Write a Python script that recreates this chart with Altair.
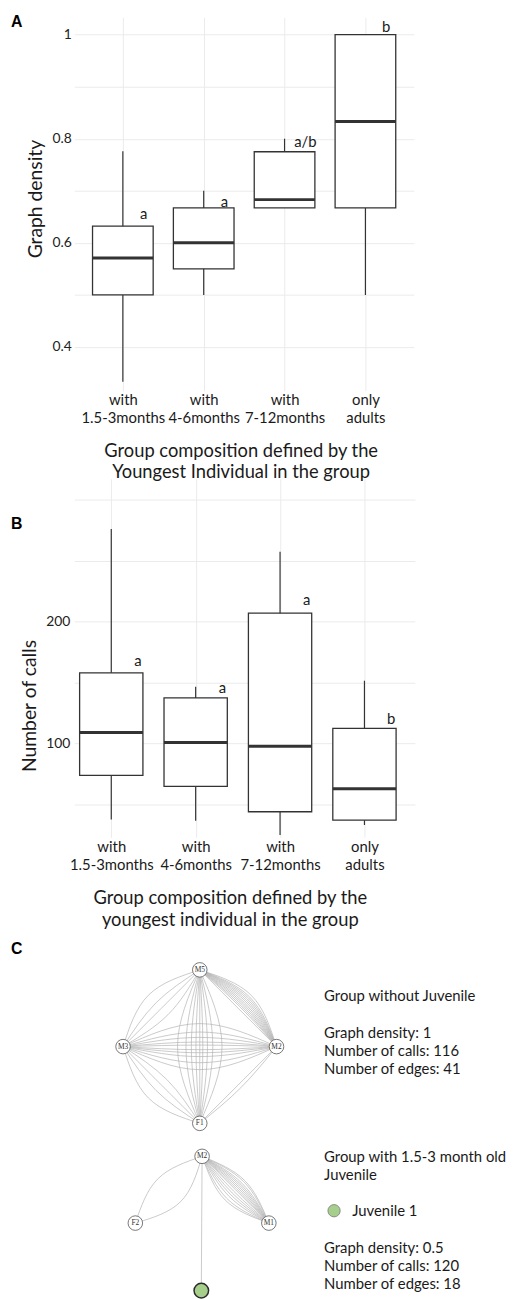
import json
import math
import altair as alt
import pandas as pd

FONT = "Lato"
INK = "#1a1a1a"
BOX = "#333333"
GRID = "#ebebeb"
GREEN = "#a6cf8c"

# ---------------- categories ----------------
group_idx = [1, 2, 3, 4]
group_labels = [["with", "1.5-3months"], ["with", "4-6months"], ["with", "7-12months"], ["only", "adults"]]

# ---------------- panel A : graph density ----------------
a_lower = [0.333, 0.500, 0.667, 0.500]
a_q1 = [0.500, 0.550, 0.667, 0.667]
a_median = [0.571, 0.600, 0.683, 0.833]
a_q3 = [0.632, 0.667, 0.775, 1.000]
a_upper = [0.776, 0.700, 0.800, 1.000]
a_letters = ["a", "a", "a/b", "b"]
a_letter_y = [0.656, 0.679, 0.793, 1.015]
a_ticks = [0.4, 0.5, 0.6, 0.7, 0.8, 0.9, 1.0]

# ---------------- panel B : number of calls ----------------
b_lower = [37.6, 36.6, 24.9, 33.0]
b_q1 = [73.7, 64.7, 43.9, 37.0]
b_median = [109.0, 100.8, 97.6, 62.8]
b_q3 = [158.0, 137.4, 207.0, 112.4]
b_upper = [276.0, 146.6, 257.4, 151.5]
b_letters = ["a", "a", "a", "b"]
b_letter_y = [168.0, 145.5, 218.0, 120.3]
b_ticks = [50, 100, 150, 200, 250, 300]

# ---------------- panel C : networks (layout units) ----------------
net1_names = ["M5", "M3", "M2", "F1"]
net1_x = [0.0, -1.0, 1.0, 0.0]
net1_y = [1.0, 0.0, 0.0, -1.0]
net1_edges = [
    ("M3", "M2", [0.30, 0.19, 0.12, 0.06, 0.02, -0.04, -0.08, -0.13, -0.21, -0.30]),
    ("M5", "F1", [0.29, 0.17, 0.10, 0.04, 0.0, -0.05, -0.11, -0.18, -0.29]),
    ("M5", "M2", [0.0, 0.03, 0.05, 0.07, 0.09, 0.11, 0.13, 0.15, 0.17, 0.19, 0.21, 0.24]),
    ("M3", "M5", [0.24, 0.10, 0.0, -0.12]),
    ("F1", "M3", [0.24, 0.10, 0.0, -0.10]),
    ("M2", "F1", [0.0, 0.05]),
]
net2_names = ["M2", "F2", "M1", "Juvenile 1"]
net2_x = [0.03, -0.84, 0.90, 0.02]
net2_y = [-1.43, -2.30, -2.30, -3.18]
net2_juvenile = [False, False, False, True]
net2_edges = [
    ("F2", "M2", [0.20, -0.22]),
    ("M2", "M1", [0.17, 0.15, 0.12, 0.10, 0.08, 0.06, 0.04, 0.02, 0.0, -0.03, -0.06, -0.09, -0.12, -0.16, -0.19]),
    ("M2", "Juvenile 1", [0.0]),
]

info_text = ["Group without Juvenile", "Graph density: 1", "Number of calls: 116", "Number of edges: 41",
             "Group with 1.5-3 month old", "Juvenile", "Juvenile 1",
             "Graph density: 0.5", "Number of calls: 120", "Number of edges: 18"]
info_x = [1.62, 1.62, 1.62, 1.62, 1.62, 1.62, 1.987, 1.62, 1.62, 1.62]
info_y = [0.665, 0.178, -0.054, -0.294, -1.443, -1.68, -2.139, -2.626, -2.862, -3.10]
legend_x = [1.75]
legend_y = [-2.139]


def box_panel(lower, q1, med, q3, upper, letters, letter_y, xdom, ydom, yvals, yfmt, ylab_expr,
              ytitle, ytitle_x, ytitle_y, ylab_pad, xtitle, xtitle_x, xtitle_y, xlab_pad, letter_dx,
              width, height, ptitle, title_dy):
    df = pd.DataFrame(dict(idx=group_idx, lower=lower, q1=q1, med=med, q3=q3, upper=upper,
                           letter=letters, ly=letter_y))
    xs = alt.Scale(domain=xdom, nice=False, zero=False)
    ys = alt.Scale(domain=ydom, nice=False, zero=False)
    base = alt.Chart(df).transform_calculate(x0="datum.idx - 0.375", x1="datum.idx + 0.375")
    xaxis = alt.Axis(values=group_idx, labelExpr=json.dumps(group_labels) + "[datum.value - 1]",
                     grid=True, gridColor=GRID, gridWidth=1, ticks=False, domain=False,
                     labelPadding=xlab_pad, labelBaseline="alphabetic", labelLineHeight=18.5,
                     labelFont=FONT, labelFontSize=15, labelColor=INK, labelFlush=False,
                     labelOverlap=False, labelAngle=0, labelAlign="center",
                     title=xtitle, titleFont=FONT, titleFontSize=18.5, titleFontWeight="normal",
                     titleColor=INK, titleX=xtitle_x, titleY=xtitle_y, titleBaseline="alphabetic",
                     titleAlign="center", titleLineHeight=22)
    yaxis = alt.Axis(values=yvals, format=yfmt, labelExpr=ylab_expr, grid=True, gridColor=GRID,
                     gridWidth=1, ticks=False, domain=False, labelPadding=ylab_pad,
                     labelFont=FONT, labelFontSize=14, labelColor="#222222", labelOverlap=False,
                     title=ytitle, titleFont=FONT, titleFontSize=19.5, titleFontWeight="normal",
                     titleColor=INK, titleX=ytitle_x, titleY=ytitle_y, titleAngle=270,
                     titleBaseline="alphabetic", titleAlign="center")
    whisk = base.mark_rule(color=BOX, strokeWidth=1.2).encode(
        x=alt.X("idx:Q", scale=xs, axis=xaxis),
        y=alt.Y("lower:Q", scale=ys, axis=yaxis),
        y2="upper:Q")
    box = base.mark_rect(fill="white", stroke=BOX, strokeWidth=1.3).encode(
        x=alt.X("x0:Q", scale=xs, axis=xaxis), x2="x1:Q",
        y=alt.Y("q1:Q", scale=ys, axis=yaxis), y2="q3:Q")
    medl = base.mark_rule(color=BOX, strokeWidth=3).encode(
        x=alt.X("x0:Q", scale=xs, axis=xaxis), x2="x1:Q",
        y=alt.Y("med:Q", scale=ys, axis=yaxis))
    lett = base.mark_text(font=FONT, fontSize=15, color=INK, dx=letter_dx, baseline="middle").encode(
        x=alt.X("idx:Q", scale=xs, axis=xaxis),
        y=alt.Y("ly:Q", scale=ys, axis=yaxis),
        text="letter:N")
    return alt.layer(whisk, box, medl, lett).properties(
        width=width, height=height,
        title=alt.TitleParams(text=ptitle, anchor="start", frame="group", dx=-64, dy=title_dy,
                              offset=0, font="Liberation Sans", fontSize=16, fontWeight="bold",
                              color="black", baseline="alphabetic"))


panel_a = box_panel(a_lower, a_q1, a_median, a_q3, a_upper, a_letters, a_letter_y,
                    [0.4, 4.6], [0.316, 1.033], a_ticks, "~g",
                    "round(datum.value * 10) % 2 == 0 ? datum.label : ''",
                    "Graph density", -33.5, 183, 3,
                    ["Group composition defined by the", "Youngest Individual in the group"], 168, 66, 14, 21,
                    343, 377, "A", 26)

panel_b = box_panel(b_lower, b_q1, b_median, b_q3, b_upper, b_letters, b_letter_y,
                    [0.5624, 4.598], [23.0, 317.3], b_ticks, "d",
                    "datum.value == 100 || datum.value == 200 ? datum.label : ''",
                    "Number of calls", -39.5, 229, 4.5,
                    ["Group composition defined by the", "youngest individual in the group"], 157, 67, 14, 27,
                    344, 362, "B", 67)

# ---------------- panel C ----------------
C_W, C_H = 344, 381
UNIT = 77.5
ORIGIN_X, ORIGIN_Y = 126.7, 122.5
cx = alt.Scale(domain=[-ORIGIN_X / UNIT, (C_W - ORIGIN_X) / UNIT], nice=False, zero=False)
cy = alt.Scale(domain=[(ORIGIN_Y - C_H) / UNIT, ORIGIN_Y / UNIT], nice=False, zero=False)

nodes = []
pos = {}
for net, names, xs_, ys_, juv in [(1, net1_names, net1_x, net1_y, [False] * 4),
                                  (2, net2_names, net2_x, net2_y, net2_juvenile)]:
    for n, x, y, j in zip(names, xs_, ys_, juv):
        pos[(net, n)] = (x, y)
        nodes.append(dict(net=net, name=n, x=x, y=y, label="" if j else n, juvenile=j))
nodes_df = pd.DataFrame(nodes)

edge_rows = []
eid = 0
for net, edges in [(1, net1_edges), (2, net2_edges)]:
    for a, b, bulges in edges:
        ax, ay = pos[(net, a)]
        bx, by = pos[(net, b)]
        dx, dy = bx - ax, by - ay
        L = math.hypot(dx, dy)
        nx, ny = -dy / L, dx / L
        mx, my = (ax + bx) / 2, (ay + by) / 2
        for bv in bulges:
            pts = [(ax, ay), (mx + nx * bv, my + ny * bv), (bx, by)]
            for k, (px, py) in enumerate(pts):
                edge_rows.append(dict(eid=eid, k=k, x=px, y=py))
            eid += 1
edges_df = pd.DataFrame(edge_rows)

info_df = pd.DataFrame(dict(text=info_text, x=info_x, y=info_y))
legend_df = pd.DataFrame(dict(x=legend_x, y=legend_y))

def cxy(chart):
    return chart.encode(x=alt.X("x:Q", scale=cx, axis=None), y=alt.Y("y:Q", scale=cy, axis=None))

edge_layer = cxy(alt.Chart(edges_df).mark_line(interpolate="natural", color="#b3b3b3", strokeWidth=0.7)).encode(
    detail="eid:N", order="k:Q")
adult_layer = cxy(alt.Chart(nodes_df).transform_filter("!datum.juvenile").mark_circle(
    fill="white", stroke="#555555", strokeWidth=0.8, size=216, opacity=1))
juv_layer = cxy(alt.Chart(nodes_df).transform_filter("datum.juvenile").mark_circle(
    fill=GREEN, stroke="#2b2b2b", strokeWidth=1.5, size=216, opacity=1))
node_text = cxy(alt.Chart(nodes_df).mark_text(font="Liberation Serif", fontSize=7.5, color="#333333")).encode(
    text="label:N")
info_layer = cxy(alt.Chart(info_df).mark_text(font=FONT, fontSize=15, color=INK, align="left",
                                               baseline="middle")).encode(text="text:N")
legend_layer = cxy(alt.Chart(legend_df).mark_circle(fill=GREEN, stroke="#777777", strokeWidth=0.8,
                                                    size=154, opacity=1))

panel_c = alt.layer(edge_layer, adult_layer, juv_layer, node_text, info_layer, legend_layer).properties(
    width=C_W, height=C_H,
    title=alt.TitleParams(text="C", anchor="start", frame="group", dx=-64, dy=45, offset=0,
                          font="Liberation Sans", fontSize=16, fontWeight="bold", color="black",
                          baseline="alphabetic"))

chart = alt.vconcat(panel_a, panel_b, panel_c, spacing=89, bounds="flush").configure_view(
    stroke=None).properties(padding={"left": 3, "top": 0, "right": 0, "bottom": 0}, background="white")

chart.save("out.html", embed_options={"renderer": "svg", "actions": False})
